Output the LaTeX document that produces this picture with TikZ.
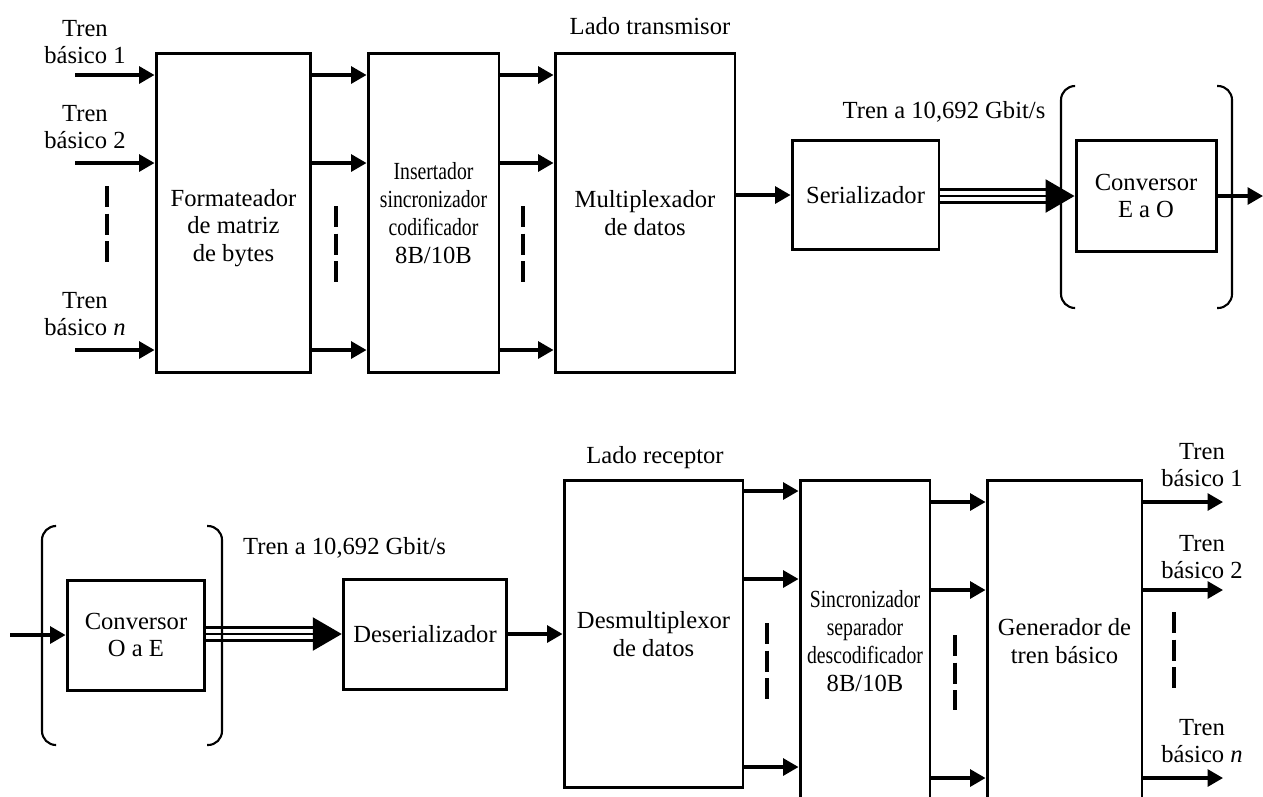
\documentclass[tikz,border=0pt]{standalone}
\usepackage{fontspec}
\setmainfont{Liberation Serif}
\newfontfamily\narrowfont[FakeStretch=0.8]{Liberation Serif}
\usetikzlibrary{arrows.meta}

\begin{document}
\begin{tikzpicture}[x=0.02cm,y=-0.02cm,thick,font=\fontsize{14}{15.8}\selectfont,
		main node/.style={rectangle,draw,line width=1.7pt,align=center,inner sep=1pt},
		text node/.style={align=center,inner sep=0pt},
		arrow line/.style={-{Triangle[length=0.31cm,width=0.34cm]},line width=1.8pt},
		triple line/.style={line width=1.4pt},
		triple head/.style={-{Triangle[length=0.58cm,width=0.66cm]},line width=1.4pt},
		dots line/.style={line width=2.3pt,dash pattern=on 0.42cm off 0.13cm},
		bracket/.style={line width=1.2pt,rounded corners=0.28cm}]
	\useasboundingbox (0,0) rectangle (1263,796);
	\clip (0,0) rectangle (1263,796);

	% lado transmisor
	\node[main node,minimum width=3.1cm,minimum height=6.4cm]	(Formateador)	at (233.5,213)	{};
	\node[text node]	(FormateadorText)	at (233.5,228)	{Formateador\\de matriz\\de bytes};
	\node[main node,minimum width=2.62cm,minimum height=6.4cm]	(Insertador)	at (433.5,213)
		{{\narrowfont Insertador}\\{\narrowfont sincronizador}\\{\narrowfont codificador}\\8B/10B};
	\node[main node,minimum width=3.6cm,minimum height=6.4cm]	(Multiplexador)	at (645,213)	{Multiplexador\\de datos};
	\node[main node,minimum width=2.94cm,minimum height=2.18cm]	(Serializador)	at (865.5,195)	{Serializador};
	\node[main node,minimum width=2.8cm,minimum height=2.22cm]	(ConversorEO)	at (1146,196)	{Conversor\\E a O};

	\node[text node]	(tb1)	at (85,42)	{Tren\\básico 1};
	\node[text node]	(tb2)	at (85,127)	{Tren\\básico 2};
	\node[text node]	(tbn)	at (85,314)	{Tren\\básico \textit{n}};
	\node[text node]	(transmisor)	at (650,26)	{Lado transmisor};
	\node[text node]	(rateTx)	at (944,112)	{Tren a 10,692 Gbit/s};

	\coordinate (in1) at (75,75);
	\coordinate (in2) at (75,163);
	\coordinate (inn) at (75,350);
	\coordinate (out) at (1263,196);

	\path[arrow line]
		(in1)	edge	(Formateador.west |- in1)
		(in2)	edge	(Formateador.west |- in2)
		(inn)	edge	(Formateador.west |- inn)
		(Formateador.east |- in1)	edge	(Insertador.west |- in1)
		(Formateador.east |- in2)	edge	(Insertador.west |- in2)
		(Formateador.east |- inn)	edge	(Insertador.west |- inn)
		(Insertador.east |- in1)	edge	(Multiplexador.west |- in1)
		(Insertador.east |- in2)	edge	(Multiplexador.west |- in2)
		(Insertador.east |- inn)	edge	(Multiplexador.west |- inn)
		(Multiplexador.east |- Serializador.west)	edge	(Serializador.west)
		(ConversorEO.east)	edge	(out);

	\coordinate (txA) at (Serializador.east |- ConversorEO.west);
	\coordinate (txB) at ([xshift=-0.5cm]ConversorEO.west);
	\draw[triple head] (txA) -- (ConversorEO.west);
	\draw[triple line] ([yshift=0.13cm]txA) -- ([yshift=0.13cm]txB);
	\draw[triple line] ([yshift=-0.13cm]txA) -- ([yshift=-0.13cm]txB);

	\draw[dots line] (107,186) -- (107,262);
	\draw[dots line] (336,206) -- (336,284);
	\draw[dots line] (523,206) -- (523,284);

	\draw[bracket] (1075,86) -- (1061,86) -- (1061,308) -- (1075,308);
	\draw[bracket] (1217,86) -- (1232,86) -- (1232,308) -- (1217,308);

	% lado receptor
	\node[main node,minimum width=2.76cm,minimum height=2.2cm]	(ConversorOE)	at (136,635)	{Conversor\\O a E};
	\node[main node,minimum width=3.27cm,minimum height=2.2cm]	(Deserializador)	at (425,634)	{Deserializador};
	\node[main node,minimum width=3.58cm,minimum height=6.16cm]	(Desmultiplexor)	at (653.5,634)	{Desmultiplexor\\de datos};
	\node[main node,minimum width=2.6cm,minimum height=6.44cm]	(Sincronizador)	at (865,641)
		{{\narrowfont Sincronizador}\\{\narrowfont separador}\\{\narrowfont descodificador}\\8B/10B};
	\node[main node,minimum width=3.1cm,minimum height=6.44cm]	(Generador)	at (1064.5,641)	{Generador de\\tren básico};

	\node[text node]	(rateRx)	at (344.5,548)	{Tren a 10,692 Gbit/s};
	\node[text node]	(receptor)	at (655,458)	{Lado receptor};
	\node[text node]	(tr1)	at (1202,465)	{Tren\\básico 1};
	\node[text node]	(tr2)	at (1202,557)	{Tren\\básico 2};
	\node[text node]	(trn)	at (1202,741)	{Tren\\básico \textit{n}};

	\coordinate (rin) at (10,635);
	\coordinate (dm1) at (0,491);
	\coordinate (dm2) at (0,579);
	\coordinate (dmn) at (0,767);
	\coordinate (ob1) at (1223,502);
	\coordinate (ob2) at (1223,590);
	\coordinate (obn) at (1223,778);

	\path[arrow line]
		(rin)	edge	(ConversorOE.west)
		(Deserializador.east)	edge	(Desmultiplexor.west |- Deserializador.east)
		(Desmultiplexor.east |- dm1)	edge	(Sincronizador.west |- dm1)
		(Desmultiplexor.east |- dm2)	edge	(Sincronizador.west |- dm2)
		(Desmultiplexor.east |- dmn)	edge	(Sincronizador.west |- dmn)
		(Sincronizador.east |- ob1)	edge	(Generador.west |- ob1)
		(Sincronizador.east |- ob2)	edge	(Generador.west |- ob2)
		(Sincronizador.east |- obn)	edge	(Generador.west |- obn)
		(Generador.east |- ob1)	edge	(ob1)
		(Generador.east |- ob2)	edge	(ob2)
		(Generador.east |- obn)	edge	(obn);

	\coordinate (rxA) at (ConversorOE.east |- Deserializador.west);
	\coordinate (rxB) at ([xshift=-0.5cm]Deserializador.west);
	\draw[triple head] (rxA) -- (Deserializador.west);
	\draw[triple line] ([yshift=0.13cm]rxA) -- ([yshift=0.13cm]rxB);
	\draw[triple line] ([yshift=-0.13cm]rxA) -- ([yshift=-0.13cm]rxB);

	\draw[dots line] (767,623) -- (767,700);
	\draw[dots line] (955,635) -- (955,710);
	\draw[dots line] (1174,612) -- (1174,688);

	\draw[bracket] (55,526) -- (42,526) -- (42,745) -- (55,745);
	\draw[bracket] (207,526) -- (222,526) -- (222,745) -- (207,745);
\end{tikzpicture}
\end{document}
